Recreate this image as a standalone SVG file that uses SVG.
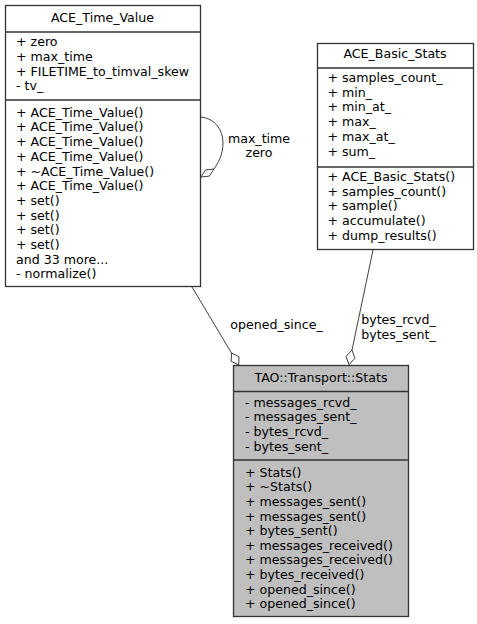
<svg xmlns="http://www.w3.org/2000/svg" width="477" height="624" viewBox="0 0 477 624">
<style>
text{font-family:"DejaVu Sans","Liberation Sans",sans-serif;font-size:12.6px;fill:#000}
.t{text-anchor:middle}
.box{fill:#fff;stroke:#333;stroke-width:1.3}
.hl{fill:#bfbfbf}
.sep{stroke:#333;stroke-width:1.3}
.edge{fill:none;stroke:#404040;stroke-width:1}
.dia{fill:#fff;stroke:#404040;stroke-width:1}
</style>
<rect width="477" height="624" fill="#fff"/>
<g id="connectors">
<path class="edge" d="M200.5,117 C215,118 223,130 223,143 C223,155 218,163 214,169"/>
<polygon class="dia" points="201,177 205.6,169.9 214,169 209.4,176.1"/>
<text x="259" y="143" class="t">max_time</text>
<text x="259" y="157" class="t">zero</text>
<path class="edge" d="M192,287 L231.5,353"/>
<polygon class="dia" points="238.7,365 239,356.7 231.5,353 231.2,361.3"/>
<text x="276.5" y="329" class="t">opened_since_</text>
<path class="edge" d="M373,250 L352,350"/>
<polygon class="dia" points="349,364.7 354.9,358.3 352,350 346.1,356.4"/>
<text x="398.5" y="323.8" class="t">bytes_rcvd_</text>
<text x="398.5" y="338.6" class="t">bytes_sent_</text>
</g>
<g id="ACE_Time_Value">
<rect class="box" x="5.5" y="5.5" width="195" height="281"/>
<line class="sep" x1="5.5" y1="32" x2="200.5" y2="32"/>
<line class="sep" x1="5.5" y1="100" x2="200.5" y2="100"/>
<text x="102.5" y="21.7" class="t">ACE_Time_Value</text>
<text><tspan x="16" y="46">+ zero</tspan><tspan x="16" y="60.75">+ max_time</tspan><tspan x="16" y="75.5">+ FILETIME_to_timval_skew</tspan><tspan x="16" y="90.25">- tv_</tspan></text>
<text><tspan x="16" y="116.7">+ ACE_Time_Value()</tspan><tspan x="16" y="131.4">+ ACE_Time_Value()</tspan><tspan x="16" y="146.1">+ ACE_Time_Value()</tspan><tspan x="16" y="160.8">+ ACE_Time_Value()</tspan><tspan x="16" y="175.5">+ ~ACE_Time_Value()</tspan><tspan x="16" y="190.2">+ ACE_Time_Value()</tspan><tspan x="16" y="204.9">+ set()</tspan><tspan x="16" y="219.6">+ set()</tspan><tspan x="16" y="234.3">+ set()</tspan><tspan x="16" y="249">+ set()</tspan><tspan x="16" y="263.7">and 33 more...</tspan><tspan x="16" y="278.4">- normalize()</tspan></text>
</g>
<g id="ACE_Basic_Stats">
<rect class="box" x="317.5" y="43.5" width="156" height="206"/>
<line class="sep" x1="317.5" y1="68" x2="473.5" y2="68"/>
<line class="sep" x1="317.5" y1="167" x2="473.5" y2="167"/>
<text x="395" y="58.3" class="t">ACE_Basic_Stats</text>
<text><tspan x="327.5" y="81.7">+ samples_count_</tspan><tspan x="327.5" y="96.5">+ min_</tspan><tspan x="327.5" y="111.3">+ min_at_</tspan><tspan x="327.5" y="126.1">+ max_</tspan><tspan x="327.5" y="140.9">+ max_at_</tspan><tspan x="327.5" y="155.7">+ sum_</tspan></text>
<text><tspan x="327.5" y="181">+ ACE_Basic_Stats()</tspan><tspan x="327.5" y="195.7">+ samples_count()</tspan><tspan x="327.5" y="210.4">+ sample()</tspan><tspan x="327.5" y="225.1">+ accumulate()</tspan><tspan x="327.5" y="239.8">+ dump_results()</tspan></text>
</g>
<g id="TAO_Transport_Stats">
<rect class="box hl" x="233.5" y="365.5" width="175" height="251"/>
<line class="sep" x1="233.5" y1="391.5" x2="408.5" y2="391.5"/>
<line class="sep" x1="233.5" y1="460" x2="408.5" y2="460"/>
<text x="321" y="381.7" class="t">TAO::Transport::Stats</text>
<text><tspan x="245" y="406.7">- messages_rcvd_</tspan><tspan x="245" y="421.3">- messages_sent_</tspan><tspan x="245" y="435.9">- bytes_rcvd_</tspan><tspan x="245" y="450.5">- bytes_sent_</tspan></text>
<text><tspan x="245" y="476.7">+ Stats()</tspan><tspan x="245" y="491.3">+ ~Stats()</tspan><tspan x="245" y="505.9">+ messages_sent()</tspan><tspan x="245" y="520.5">+ messages_sent()</tspan><tspan x="245" y="535.1">+ bytes_sent()</tspan><tspan x="245" y="549.7">+ messages_received()</tspan><tspan x="245" y="564.3">+ messages_received()</tspan><tspan x="245" y="578.9">+ bytes_received()</tspan><tspan x="245" y="593.5">+ opened_since()</tspan><tspan x="245" y="608.1">+ opened_since()</tspan></text>
</g>
</svg>
